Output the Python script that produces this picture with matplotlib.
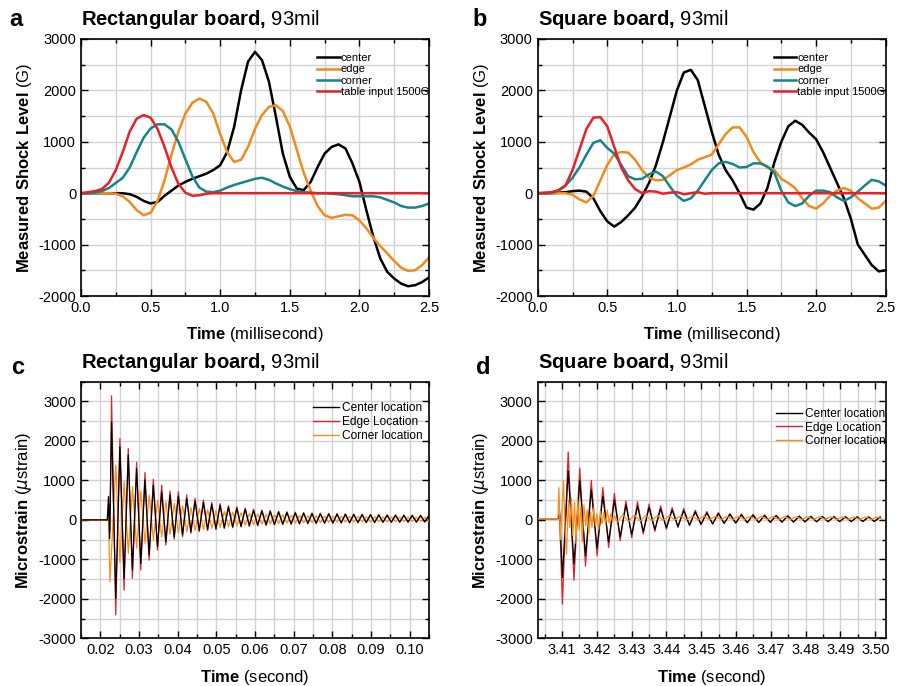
import numpy as np
import matplotlib
matplotlib.use("Agg")
import matplotlib.pyplot as plt
from matplotlib.ticker import MultipleLocator, FormatStrFormatter

plt.rcParams['font.family'] = ['Liberation Sans', 'DejaVu Sans']
plt.rcParams['mathtext.fontset'] = 'custom'
plt.rcParams['mathtext.rm'] = 'Liberation Sans'
plt.rcParams['mathtext.bf'] = 'Liberation Sans:bold'
plt.rcParams['axes.unicode_minus'] = False

# ---------------- panels a / b : shock level, sampled every 0.05 ms ----------------
t_ms = np.linspace(0, 2.5, 51)

a_center = [0, 0, 0, 0, 0, 0, 0, -20, -70, -150, -200, -170, -50, 50, 150, 220, 280, 330, 380, 450,
            545, 800, 1290, 2000, 2560, 2750, 2590, 2170, 1490, 770, 320, 90, 60, 220, 510, 770,
            900, 950, 870, 580, 220, -330, -850, -1270, -1530, -1660, -1760, -1810, -1790, -1730, -1640]
a_edge = [0, 0, 0, 0, 0, -10, -60, -170, -330, -430, -380, -150, 250, 750, 1200, 1550, 1760, 1840, 1780, 1550,
          1150, 800, 610, 650, 900, 1250, 1520, 1680, 1710, 1600, 1300, 850, 400, 50, -250, -430,
          -480, -450, -420, -430, -530, -680, -870, -1030, -1170, -1320, -1450, -1510, -1500, -1400, -1250]
a_corner = [0, 0, 10, 40, 100, 200, 300, 500, 800, 1080, 1260, 1340, 1340, 1240, 1000, 660, 330, 110, 30, 20,
            50, 110, 160, 200, 240, 280, 300, 260, 190, 130, 80, 40, 20, 10, 0, 0,
            -10, -20, -40, -60, -60, -60, -60, -80, -130, -180, -250, -280, -280, -250, -200]
a_table = [0, 20, 40, 80, 200, 450, 800, 1200, 1450, 1520, 1470, 1250, 900, 500, 180, 10, -50, -40, -10, 0,
           0, 0, 0, 0, 0, 0, 0, 0, 0, 0, 0, 0, 0, 0, 0, 0,
           0, 0, 0, 0, 0, 0, 0, 0, 0, 0, 0, 0, 0, 0, 0]

b_center = [0, 0, 0, 10, 20, 40, 50, 30, -100, -350, -550, -650, -560, -430, -280, -60, 200, 550, 1000, 1500,
            2000, 2350, 2400, 2200, 1700, 1200, 750, 450, 250, 0, -280, -320, -200, 100, 600, 1000,
            1300, 1410, 1330, 1180, 1050, 800, 500, 200, -100, -500, -1000, -1200, -1400, -1520, -1500]
b_edge = [0, 0, 0, 0, 0, -30, -120, -180, -50, 250, 550, 760, 800, 790, 650, 450, 300, 250, 260, 350,
          450, 500, 560, 650, 700, 750, 950, 1150, 1280, 1280, 1100, 800, 600, 500, 450, 280,
          200, 100, -100, -250, -300, -200, -50, 50, 100, 50, -100, -200, -300, -280, -150]
b_corner = [0, 0, 10, 50, 150, 300, 500, 750, 980, 1030, 880, 770, 550, 330, 270, 280, 370, 420, 330, 130,
            -50, -150, -100, 50, 250, 450, 580, 610, 570, 500, 510, 580, 580, 520, 400, 50,
            -180, -250, -200, -50, 50, 50, 20, -80, -150, -80, 30, 150, 260, 230, 150]
b_table = [0, 10, 20, 60, 150, 450, 850, 1250, 1470, 1480, 1300, 900, 500, 250, 80, 0, 40, 30, -10, 10,
           20, -20, 0, 20, -10, 0, 0, 0, 0, 0, 0, 0, 0, 0, 0, 0,
           0, 0, 0, 0, 0, 0, 0, 0, 0, 0, 0, 0, 0, 0, 0]

# ---------------- panel c : rectangular board strain (peaks / troughs) ----------------
c_half = 0.00108
c_center_pre_t = [0.015, 0.0218, 0.0221, 0.0224]
c_center_pre_v = [0, 0, 590, -480]
c_center_peaks = [2480, 1850, 1640, 1300, 1010, 880, 710, 630, 600, 540, 470, 440, 390, 365, 320, 295, 268,
                  240, 222, 210, 198, 185, 175, 166, 158, 152, 148, 143, 139, 134, 130, 126, 121, 117, 115,
                  112, 110, 108, 106]
c_center_troughs = [-1990, -1480, -1270, -1100, -890, -680, -555, -430, -380, -300, -265, -240, -220, -195,
                    -178, -160, -146, -134, -124, -115, -107, -100, -94, -89, -85, -80, -77, -73, -70, -67,
                    -64, -62, -60, -58, -56, -54, -52, -50]
c_edge_pre_t = [0.015, 0.0219, 0.0222, 0.0225]
c_edge_pre_v = [0, 0, 400, -300]
c_edge_peaks = [3140, 2060, 1810, 1455, 1200, 1030, 880, 730, 710, 630, 545, 500, 440, 410, 360, 330, 300,
                270, 250, 235, 220, 205, 195, 185, 175, 170, 165, 160, 155, 150, 145, 140, 135, 130, 128,
                125, 122, 120, 118]
c_edge_troughs = [-2410, -1780, -1480, -1270, -1020, -765, -640, -490, -430, -340, -300, -270, -250, -220,
                  -200, -180, -165, -150, -140, -130, -120, -112, -105, -100, -95, -90, -86, -82, -78, -75,
                  -72, -70, -68, -66, -64, -62, -60, -58]
c_corner_pre_t = [0.015, 0.0221, 0.0225]
c_corner_pre_v = [0, 0, -1570]
c_corner_peaks = [1390, 970, 840, 730, 630, 500, 460, 420, 360, 310, 290, 260, 235, 215, 195, 180, 165, 150,
                  140, 132, 125, 118, 112, 106, 100, 96, 92, 88, 85, 82, 80, 78, 76, 74, 72, 70, 68, 66]
c_corner_troughs = [-1080, -850, -720, -595, -510, -430, -370, -330, -300, -270, -240, -215, -190, -170,
                    -150, -135, -120, -110, -100, -92, -85, -80, -75, -70, -66, -62, -58, -55, -52, -50,
                    -48, -46, -44, -42, -40, -38, -36, -35]

# ---------------- panel d : square board strain ----------------
d_half = 0.00166
d_center_pre_t = [3.403, 3.4089, 3.4093]
d_center_pre_v = [30, 30, 200]
d_center_troughs = [-1460, -1120, -910, -720, -560, -430, -370, -300, -245, -200, -165, -130, -110, -95,
                    -84, -75, -68, -63, -58, -54, -51, -48, -46, -44, -42, -40, -39, -38]
d_center_peaks = [1240, 990, 760, 600, 500, 380, 350, 310, 280, 250, 230, 200, 175, 155, 138, 125, 118, 108,
                  102, 95, 88, 83, 80, 77, 75, 72, 70, 68]
d_edge_pre_t = [3.403, 3.4089, 3.4093]
d_edge_pre_v = [30, 30, 100]
d_edge_troughs = [-2135, -1530, -1170, -910, -700, -530, -450, -360, -295, -235, -195, -150, -125, -110,
                  -95, -85, -78, -72, -66, -62, -58, -55, -52, -50, -48, -46, -45, -44]
d_edge_peaks = [1720, 1310, 1000, 820, 670, 480, 460, 400, 355, 310, 290, 245, 210, 185, 160, 145, 140, 125,
                120, 110, 100, 95, 90, 88, 85, 82, 80, 78]
d_corner_early_t = [3.403, 3.4088, 3.4091, 3.4095, 3.4100, 3.4104, 3.4109, 3.4113, 3.4118, 3.4122, 3.4127,
                    3.4131, 3.4136, 3.4140, 3.4145, 3.4149, 3.4154, 3.4158, 3.4163, 3.4168, 3.4172, 3.4177,
                    3.4182, 3.4186, 3.4191, 3.4196, 3.4200, 3.4205, 3.4210, 3.4215, 3.4220, 3.4225, 3.4230,
                    3.4235, 3.4240, 3.4245, 3.4250]
d_corner_early_v = [30, 30, 820, -500, 300, 1000, -300, -870, 500, -200, 550, -400, 450, -600, 520, -250, 350,
                    -550, 380, -150, 250, -350, 200, -200, 300, -150, 150, -250, 220, -100, 180, -120, 250,
                    -80, 150, -60, 120]
d_corner_lows = [-60, -40, -30, -20, -10, -5, 0, 0, 5, 5, 10, 10, 10, 10, 10, 10, 10, 10, 10, 10, 10, 10, 10, 10]
d_corner_highs = [130, 120, 110, 110, 100, 100, 95, 95, 90, 90, 90, 85, 85, 85, 80, 80, 80, 80, 80, 75, 75,
                  75, 75]


def zigzag(pre_t, pre_v, t0, half, first, second):
    # alternate the two extreme lists, one every half period
    vals = []
    for i in range(max(len(first), len(second))):
        if i < len(first):
            vals.append(first[i])
        if i < len(second):
            vals.append(second[i])
    t = t0 + half * np.arange(len(vals))
    return np.concatenate([pre_t, t]), np.concatenate([pre_v, vals])


BLACK = '#000000'
ORANGE_AB = '#F28A1E'
TEAL = '#13868A'
RED_AB = '#E8202A'
RED_CD = '#E0232B'
ORANGE_CD = '#F5901E'
GRID = '#d2d2d2'

fig = plt.figure(figsize=(8.97, 6.86), dpi=100)
W, H = 897, 686


def make_ax(x0, y0, x1, y1):
    return fig.add_axes([x0 / W, 1 - y1 / H, (x1 - x0) / W, (y1 - y0) / H])


def style(ax):
    ax.grid(True, which='both', color=GRID, lw=1.0)
    ax.set_axisbelow(True)
    ax.tick_params(which='both', direction='in', top=True, right=True, labelsize=10.5, width=1.0)
    ax.tick_params(which='major', length=5)
    ax.tick_params(which='minor', length=3)
    for s in ax.spines.values():
        s.set_linewidth(1.2)


def heading(ax, letter, name, ly, lx):
    ax.text(0.0, 1.03, r'$\mathbf{' + name.replace(' ', r'\ ') + r'{,}}$ 93mil', transform=ax.transAxes,
            fontsize=14.5, ha='left', va='bottom')
    fig.text(lx / W, 1 - ly / H, letter, fontsize=17, fontweight='bold', ha='left', va='center')


ax_a = make_ax(81, 39, 429, 296)
ax_b = make_ax(537.7, 39, 885.7, 296)
ax_c = make_ax(81, 381.7, 429, 638.3)
ax_d = make_ax(537.7, 381.7, 885.7, 638.3)

for ax, series, name, letter, lx in [
        (ax_a, (a_center, a_edge, a_corner, a_table), 'Rectangular board', 'a', 9),
        (ax_b, (b_center, b_edge, b_corner, b_table), 'Square board', 'b', 472)]:
    for vals, col, lab in zip(series, (BLACK, ORANGE_AB, TEAL, RED_AB),
                              ('center', 'edge', 'corner', 'table input 1500G')):
        ax.plot(t_ms, vals, color=col, lw=1.8, label=lab, solid_joinstyle='round')
    ax.set_xlim(0, 2.5)
    ax.set_ylim(-2000, 3000)
    ax.xaxis.set_major_locator(MultipleLocator(0.5))
    ax.xaxis.set_minor_locator(MultipleLocator(0.25))
    ax.yaxis.set_major_locator(MultipleLocator(1000))
    ax.yaxis.set_minor_locator(MultipleLocator(500))
    ax.xaxis.set_major_formatter(FormatStrFormatter('%.1f'))
    style(ax)
    ax.set_xlabel(r'$\mathbf{Time}$ (millisecond)', fontsize=12, labelpad=7)
    ax.set_ylabel(r'$\mathbf{Measured\ Shock\ Level}$ (G)', fontsize=12, labelpad=3)
    ax.legend(loc='upper right', bbox_to_anchor=(1.0, 0.945), frameon=False, fontsize=8,
              handlelength=2.0, handletextpad=0.1, labelspacing=0.12, borderaxespad=0, borderpad=0)
    heading(ax, letter, name, 20, lx)

# panel c
ct, cv = zigzag(c_center_pre_t, c_center_pre_v, 0.0229, c_half, c_center_peaks, c_center_troughs)
et, ev = zigzag(c_edge_pre_t, c_edge_pre_v, 0.0229, c_half, c_edge_peaks, c_edge_troughs)
ot, ov = zigzag(c_corner_pre_t, c_corner_pre_v, 0.0240, c_half, c_corner_peaks, c_corner_troughs)
ax_c.plot(et, ev, color=RED_CD, lw=0.9, zorder=3)
ax_c.plot(ot, ov, color=ORANGE_CD, lw=0.9, zorder=4)
ax_c.plot(ct, cv, color=BLACK, lw=0.9, zorder=5)
ax_c.set_xlim(0.015, 0.105)
ax_c.xaxis.set_major_locator(MultipleLocator(0.01))
ax_c.xaxis.set_minor_locator(MultipleLocator(0.005))
ax_c.xaxis.set_major_formatter(FormatStrFormatter('%.2f'))

# panel d
ct, cv = zigzag(d_center_pre_t, d_center_pre_v, 3.4101, d_half, d_center_troughs, d_center_peaks)
et, ev = zigzag(d_edge_pre_t, d_edge_pre_v, 3.4101, d_half, d_edge_troughs, d_edge_peaks)
ot, ov = zigzag(d_corner_early_t, d_corner_early_v, 3.4258, d_half, d_corner_lows, d_corner_highs)
ax_d.plot(et, ev, color=RED_CD, lw=0.9, zorder=3)
ax_d.plot(ct, cv, color=BLACK, lw=0.9, zorder=4)
ax_d.plot(ot, ov, color=ORANGE_CD, lw=0.9, zorder=5)
ax_d.set_xlim(3.403, 3.503)
ax_d.xaxis.set_major_locator(MultipleLocator(0.01))
ax_d.xaxis.set_minor_locator(MultipleLocator(0.005))
ax_d.xaxis.set_major_formatter(FormatStrFormatter('%.2f'))

for ax, name, letter, lx, anchor in [(ax_c, 'Rectangular board', 'c', 11, (0.983, 0.92)),
                                     (ax_d, 'Square board', 'd', 476, (1.0, 0.898))]:
    ax.set_ylim(-3000, 3500)
    ax.yaxis.set_major_locator(MultipleLocator(1000))
    ax.yaxis.set_minor_locator(MultipleLocator(500))
    style(ax)
    ax.set_xlabel(r'$\mathbf{Time}$ (second)', fontsize=12, labelpad=8)
    ax.set_ylabel(r'$\mathbf{Microstrain}$ ($\mu$strain)', fontsize=12, labelpad=3)
    h = [plt.Line2D([], [], color=c, lw=1.0) for c in (BLACK, RED_CD, ORANGE_CD)]
    ax.legend(h, ['Center location', 'Edge Location', 'Corner location'], loc='upper right',
              bbox_to_anchor=anchor, frameon=False, fontsize=8.6, handlelength=2.2, handletextpad=0.25,
              labelspacing=0.15, borderaxespad=0, borderpad=0)
    heading(ax, letter, name, 368, lx)

fig.savefig('out.png', dpi=100)
